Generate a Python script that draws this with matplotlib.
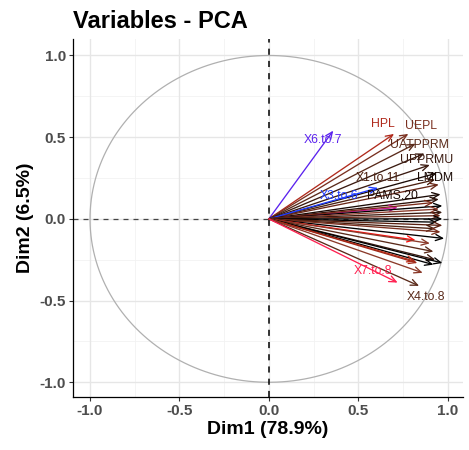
import matplotlib
matplotlib.use("Agg")
import matplotlib.pyplot as plt
import numpy as np

plt.rcParams['font.family'] = ['Liberation Sans', 'DejaVu Sans']

# ---- data: variable coordinates on Dim1 / Dim2 ----
var_names = ["X6.to.7", "HPL", "UEPL", "UATPPRM", "UPPRMU", "v06", "LMDM", "X1.to.11",
             "v09", "X3.to.6", "PAMS.20", "v12", "v13", "v14", "v15", "v16", "v17",
             "v18", "v19", "v20", "v21", "v22", "v23", "v24", "v25", "v26", "v27",
             "v28", "v29", "v30", "v31", "v32", "v33", "X4.to.8", "X7.to.8"]
dim1 = [0.36, 0.70, 0.78, 0.82, 0.87, 0.90, 0.94, 0.93,
        0.95, 0.61, 0.96, 0.95, 0.72, 0.92, 0.97, 0.95, 0.97,
        0.96, 0.97, 0.94, 0.97, 0.93, 0.96, 0.98, 0.82, 0.90, 0.92,
        0.93, 0.97, 0.92, 0.82, 0.83, 0.86, 0.84, 0.72]
dim2 = [0.54, 0.52, 0.52, 0.46, 0.40, 0.33, 0.28, 0.24,
        0.21, 0.19, 0.15, 0.12, 0.07, 0.10, 0.08, 0.06, 0.04,
        0.02, 0.00, -0.02, -0.04, -0.06, -0.08, -0.12, -0.13, -0.15, -0.20,
        -0.25, -0.27, -0.28, -0.26, -0.27, -0.33, -0.41, -0.39]
colors = ["#5b22ee", "#b02a1c", "#7a3020", "#5a2a1a", "#3a1a10", "#3a1a10", "#1a0a05", "#4a2010",
          "#6a2818", "#1f3cff", "#1a0a05", "#2a1008", "#d0189a", "#7a2a18", "#000000", "#8b3a2a", "#3a1a10",
          "#6a2818", "#000000", "#000000", "#5a2010", "#4a2010", "#7a3020", "#000000", "#ff1010", "#8b3a2a", "#5a2a1a",
          "#3a1a10", "#000000", "#000000", "#c0301a", "#a02818", "#8b3a2a", "#5a2a1a", "#ff2050"]
# labels that remain visible (others dropped by repel), with label offsets
label_offsets = {
    "X6.to.7": (-0.06, -0.06),
    "HPL": (-0.06, 0.06),
    "UEPL": (0.07, 0.05),
    "UATPPRM": (0.02, -0.01),
    "UPPRMU": (0.01, -0.04),
    "LMDM": (-0.01, -0.03),
    "X1.to.11": (-0.32, 0.01),
    "X3.to.6": (-0.22, -0.05),
    "PAMS.20": (-0.27, -0.01),
    "X4.to.8": (0.04, -0.07),
    "X7.to.8": (-0.14, 0.07),
}

title = "Variables - PCA"
xlabel = "Dim1 (78.9%)"
ylabel = "Dim2 (6.5%)"
ticks = [-1.0, -0.5, 0.0, 0.5, 1.0]
tick_labels = ["-1.0", "-0.5", "0.0", "0.5", "1.0"]

fig = plt.figure(figsize=(4.69, 4.50), dpi=100)
ax = fig.add_axes([0.1557, 0.1178, 0.987 - 0.1557, 0.913 - 0.1178])
ax.set_xlim(-1.095, 1.085)
ax.set_ylim(-1.09, 1.10)

# grid
for v in [-0.75, -0.25, 0.25, 0.75]:
    ax.axvline(v, color="#f2f2f2", lw=0.6, zorder=0)
    ax.axhline(v, color="#f2f2f2", lw=0.6, zorder=0)
for v in ticks:
    ax.axvline(v, color="#e6e6e6", lw=1.0, zorder=0)
    ax.axhline(v, color="#e6e6e6", lw=1.0, zorder=0)

# correlation circle
t = np.linspace(0, 2 * np.pi, 400)
ax.plot(np.cos(t), np.sin(t), color="#b0b0b0", lw=0.9, zorder=1)

# reference lines
ax.axhline(0, color="#444444", lw=0.9, ls=(0, (4, 4)), zorder=2)
ax.axvline(0, color="#000000", lw=1.1, ls=(0, (4, 4)), zorder=2)

# arrows
for name, x, y, c in zip(var_names, dim1, dim2, colors):
    ax.annotate("", xy=(x, y), xytext=(0, 0),
                arrowprops=dict(arrowstyle="->,head_length=0.5,head_width=0.22",
                                color=c, lw=0.95, shrinkA=0, shrinkB=0),
                zorder=3)
for name, x, y, c in zip(var_names, dim1, dim2, colors):
    if name in label_offsets:
        dx, dy = label_offsets[name]
        ax.text(x + dx, y + dy, name, color=c, fontsize=8.8,
                ha="center", va="center", zorder=4)

ax.set_xticks(ticks)
ax.set_xticklabels(tick_labels)
ax.set_yticks(ticks)
ax.set_yticklabels(tick_labels)
ax.tick_params(axis="both", length=3, width=0.8, color="#333333",
               labelsize=11, labelcolor="#4d4d4d", pad=2)
for lab in ax.get_xticklabels() + ax.get_yticklabels():
    lab.set_fontweight("bold")

for s in ["top", "right"]:
    ax.spines[s].set_visible(False)
for s in ["left", "bottom"]:
    ax.spines[s].set_color("#000000")
    ax.spines[s].set_linewidth(0.9)

ax.set_xlabel(xlabel, fontsize=14, fontweight="bold", labelpad=2)
ax.set_ylabel(ylabel, fontsize=14, fontweight="bold", labelpad=4)
ax.set_title(title, fontsize=17, fontweight="bold", loc="left", pad=8, x=0.0)

fig.savefig("out.png", dpi=100)
